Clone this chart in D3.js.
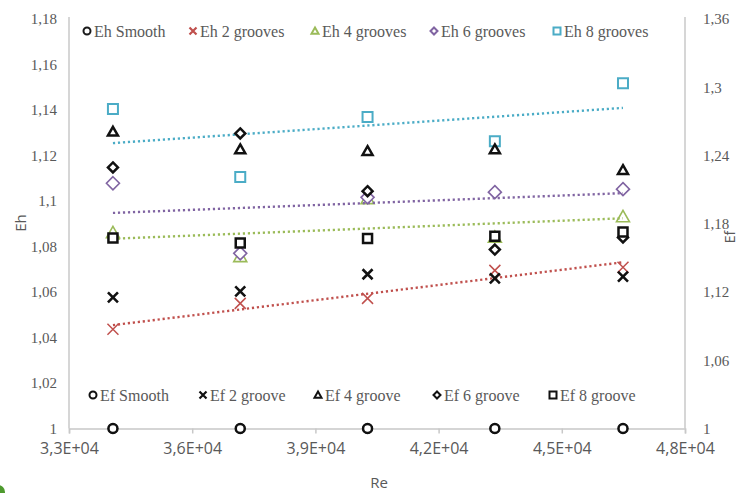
<!DOCTYPE html>
<html>
<head>
<meta charset="utf-8">
<script src="https://cdn.jsdelivr.net/npm/d3@7"></script>
<style>
  html, body { margin: 0; padding: 0; background: #fff; }
  svg { display: block; }
</style>
</head>
<body>
<svg id="chart" width="739" height="493"></svg>
<script>
// Reynolds numbers of the five test points
const re = [34070, 37170, 40270, 43370, 46490];

// Heat transfer enhancement Eh (left axis)
const ehSmooth = [1, 1, 1, 1, 1];
const eh2 = [1.0436, 1.0550, 1.0572, 1.0695, 1.0709];
const eh4 = [1.0860, 1.0755, 1.1010, 1.0840, 1.0930];
const eh6 = [1.1078, 1.0770, 1.1016, 1.1039, 1.1052];
const eh8 = [1.1404, 1.1105, 1.1369, 1.1263, 1.1518];

// Friction factor ratio Ef (right axis)
const efSmooth = [1, 1, 1, 1, 1];
const ef2 = [1.1153, 1.1206, 1.1356, 1.1320, 1.1335];
const ef4 = [1.2608, 1.2453, 1.2438, 1.2453, 1.2271];
const ef6 = [1.2295, 1.2594, 1.2086, 1.1573, 1.1680];
const ef8 = [1.1675, 1.1631, 1.1670, 1.1690, 1.1728];

// Axis ticks
const xTicks = [33000, 36000, 39000, 42000, 45000, 48000];
const xTickLabels = ["3,3E+04", "3,6E+04", "3,9E+04", "4,2E+04", "4,5E+04", "4,8E+04"];
const ehTicks = [1, 1.02, 1.04, 1.06, 1.08, 1.1, 1.12, 1.14, 1.16, 1.18];
const ehTickLabels = ["1", "1,02", "1,04", "1,06", "1,08", "1,1", "1,12", "1,14", "1,16", "1,18"];
const efTicks = [1, 1.06, 1.12, 1.18, 1.24, 1.3, 1.36];
const efTickLabels = ["1", "1,06", "1,12", "1,18", "1,24", "1,3", "1,36"];

const ehNames = ["Eh Smooth", "Eh 2 grooves", "Eh 4 grooves", "Eh 6 grooves", "Eh 8 grooves"];
const efNames = ["Ef Smooth", "Ef 2 groove", "Ef 4 groove", "Ef 6 groove", "Ef 8 groove"];

const svg = d3.select("#chart");
const L = 69, R = 685, T = 19, B = 428.5;

const x = d3.scaleLinear().domain([33000, 48000]).range([L, R]);
const yEh = d3.scaleLinear().domain([1, 1.18]).range([B, T]);
const yEf = d3.scaleLinear().domain([1, 1.36]).range([B, T]);

const gridGray = "#c8c8c8";
const textGray = "#595959";
const serif = "'Liberation Serif', 'DejaVu Serif', serif";
const sans = "'Open Sans', 'Liberation Sans', sans-serif";

// marker path builders (centred on 0,0)
const shapes = {
  circle: s => { const r = s / 2; return `M${-r},0a${r},${r} 0 1,0 ${2*r},0a${r},${r} 0 1,0 ${-2*r},0Z`; },
  cross: s => { const h = s / 2; return `M${-h},${-h}L${h},${h}M${-h},${h}L${h},${-h}`; },
  triangle: s => { const h = s / 2; return `M0,${-h}L${h},${h*0.75}L${-h},${h*0.75}Z`; },
  diamond: s => { const h = s / 2; return `M0,${-h}L${h},0L0,${h}L${-h},0Z`; },
  square: s => { const h = s / 2; return `M${-h},${-h}H${h}V${h}H${-h}Z`; }
};

// ---- axes ----
const xAxis = svg.append("g")
  .attr("transform", `translate(0,${B})`)
  .call(d3.axisBottom(x).tickValues(xTicks)
    .tickFormat((d, i) => xTickLabels[i]).tickSize(5).tickPadding(9));
xAxis.select(".domain").attr("stroke", gridGray).attr("stroke-width", 1.5);
xAxis.selectAll(".tick line").attr("stroke", gridGray).attr("stroke-width", 1.5);
xAxis.selectAll(".tick text").attr("fill", textGray).style("font-family", sans).style("font-size", "16px");

const leftAxis = svg.append("g")
  .attr("transform", `translate(${L},0)`)
  .call(d3.axisLeft(yEh).tickValues(ehTicks)
    .tickFormat((d, i) => ehTickLabels[i]).tickSize(0).tickPadding(12));
leftAxis.select(".domain").attr("stroke", gridGray).attr("stroke-width", 1.5).attr("d", `M0,${T - 2}V${B}`);
leftAxis.selectAll(".tick text").attr("fill", textGray).style("font-family", serif).style("font-size", "15px");

const rightAxis = svg.append("g")
  .attr("transform", `translate(${R},0)`)
  .call(d3.axisRight(yEf).tickValues(efTicks)
    .tickFormat((d, i) => efTickLabels[i]).tickSize(0).tickPadding(18));
rightAxis.select(".domain").attr("stroke", gridGray).attr("stroke-width", 1.5).attr("d", `M0,${T - 2}V${B}`);
rightAxis.selectAll(".tick text").attr("fill", textGray).style("font-family", serif).style("font-size", "15px");

// axis titles
svg.append("text").attr("x", 379).attr("y", 488).attr("text-anchor", "middle")
  .attr("fill", textGray).style("font-family", sans).style("font-size", "15px").text("Re");
svg.append("text").attr("transform", "translate(26,223) rotate(-90)").attr("text-anchor", "middle")
  .attr("fill", textGray).style("font-family", sans).style("font-size", "15px").text("Eh");
svg.append("text").attr("transform", "translate(735,237) rotate(-90)").attr("text-anchor", "middle")
  .attr("fill", textGray).style("font-family", sans).style("font-size", "14px").text("Ef");

// ---- series definitions ----
const ehSeries = [
  { name: ehNames[0], vals: ehSmooth, color: "#1a1a1a", shape: "circle", size: 8, sw: 2.5, trend: false },
  { name: ehNames[1], vals: eh2, color: "#c0504d", shape: "cross", size: 11, sw: 1.5, trend: true },
  { name: ehNames[2], vals: eh4, color: "#9bbb59", shape: "triangle", size: 13, sw: 1.6, trend: true },
  { name: ehNames[3], vals: eh6, color: "#8064a2", shape: "diamond", size: 13, sw: 1.6, trend: true },
  { name: ehNames[4], vals: eh8, color: "#4bacc6", shape: "square", size: 10, sw: 2, trend: true }
];
const efSeries = [
  { name: efNames[0], vals: efSmooth, shape: "circle", size: 9, sw: 2.5 },
  { name: efNames[1], vals: ef2, shape: "cross", size: 10, sw: 2.6 },
  { name: efNames[2], vals: ef4, shape: "triangle", size: 10, sw: 2.5 },
  { name: efNames[3], vals: ef6, shape: "diamond", size: 10, sw: 2.5 },
  { name: efNames[4], vals: ef8, shape: "square", size: 9, sw: 2.5 }
];

// least-squares trend line over the test points
function linFit(xs, ys) {
  const n = xs.length;
  const mx = d3.mean(xs), my = d3.mean(ys);
  let sxy = 0, sxx = 0;
  for (let i = 0; i < n; i++) { sxy += (xs[i] - mx) * (ys[i] - my); sxx += (xs[i] - mx) ** 2; }
  const b = sxy / sxx;
  return v => my + b * (v - mx);
}

const plot = svg.append("g");

// Eh markers
ehSeries.forEach(s => {
  plot.selectAll(null).data(s.vals).enter().append("path")
    .attr("d", shapes[s.shape](s.size))
    .attr("transform", (d, i) => `translate(${x(re[i])},${yEh(d)})`)
    .attr("fill", s.shape === "cross" ? "none" : "#fff")
    .attr("stroke", s.color).attr("stroke-width", s.sw);
});

// Eh trend lines (dotted)
ehSeries.filter(s => s.trend).forEach(s => {
  const f = linFit(re, s.vals);
  const x0 = re[0], x1 = re[re.length - 1];
  plot.append("line")
    .attr("x1", x(x0)).attr("y1", yEh(f(x0)))
    .attr("x2", x(x1)).attr("y2", yEh(f(x1)))
    .attr("stroke", s.color).attr("stroke-width", 2.4)
    .attr("stroke-dasharray", "2.2 2.8");
});

// Ef markers (secondary axis)
efSeries.forEach(s => {
  plot.selectAll(null).data(s.vals).enter().append("path")
    .attr("d", shapes[s.shape](s.size))
    .attr("transform", (d, i) => `translate(${x(re[i])},${yEf(d)})`)
    .attr("fill", s.shape === "cross" ? "none" : "#fff")
    .attr("stroke", "#111").attr("stroke-width", s.sw)
    .attr("stroke-linejoin", "miter");
});

// ---- legends ----
const topLegendMarkers = [87, 193, 315, 434, 557];
const bottomLegendMarkers = [93, 203, 318, 437, 553];

function legendRow(series, xs, y, colorOf, sizeScale) {
  series.forEach((s, i) => {
    const g = svg.append("g").attr("transform", `translate(${xs[i]},${y})`);
    g.append("path").attr("d", shapes[s.shape](sizeScale))
      .attr("fill", s.shape === "cross" ? "none" : "#fff")
      .attr("stroke", colorOf(s)).attr("stroke-width", s.shape === "cross" ? 2.2 : 2);
    g.append("text").attr("x", 7).attr("y", 5.5)
      .attr("fill", textGray).style("font-family", serif).style("font-size", "16px")
      .text(s.name);
  });
}
legendRow(ehSeries, topLegendMarkers, 31, s => s.color, 7);
legendRow(efSeries, bottomLegendMarkers, 395, s => "#111", 7);

// small green mark at the lower-left corner
svg.append("circle").attr("cx", -2).attr("cy", 492).attr("r", 7).attr("fill", "#4e9a2e");
</script>
</body>
</html>
